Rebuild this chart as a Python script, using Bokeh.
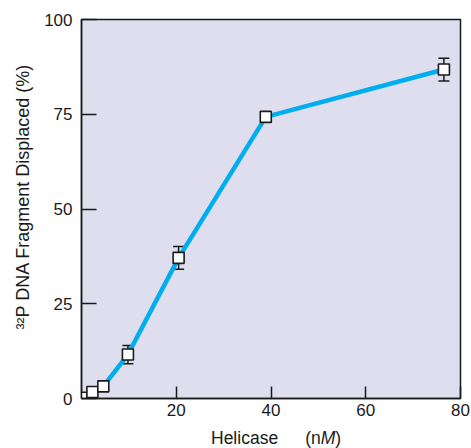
from bokeh.plotting import figure
from bokeh.models import (ColumnDataSource, Whisker, TeeHead, FixedTicker,
                          Range1d, Div)
from bokeh.layouts import column
from bokeh.embed import file_html
from bokeh.resources import INLINE

# ---- data ----
helicase_nM = [0.0, 2.3, 4.6, 9.8, 20.5, 38.9, 76.5]
displaced_pct = [0.2, 1.7, 3.2, 11.6, 37.1, 74.3, 86.8]
error_pct = [0.0, 0.0, 0.0, 2.4, 3.0, 0.0, 3.0]

x_ticks = [20, 40, 60, 80]
y_ticks = [0, 25, 50, 75, 100]

x_title_html = ("Helicase<span style=\"padding-left: 27px;\">(n<i>M</i>)</span>")
y_title = "\u00a0" * 5 + "\u00b3\u00b2P DNA Fragment Displaced (%)"

FONT = "Liberation Sans"
INK = "#1a1a1a"

p = figure(width=471, height=430, output_backend="svg", toolbar_location=None,
           x_range=Range1d(0, 80), y_range=Range1d(0, 100),
           min_border_left=81, min_border_right=11, min_border_top=19,
           min_border_bottom=32, margin=(0, 0, 0, 0))

p.background_fill_color = "#dfdeee"
p.border_fill_color = "white"
p.outline_line_color = INK
p.outline_line_width = 1.5
p.xgrid.visible = False
p.ygrid.visible = False

p.xaxis.ticker = FixedTicker(ticks=x_ticks)
p.yaxis.ticker = FixedTicker(ticks=y_ticks)
for ax, tin, stand in ((p.xaxis, 12, 5), (p.yaxis, 15, 9)):
    ax.axis_line_color = INK
    ax.axis_line_width = 1.5
    ax.major_tick_line_color = INK
    ax.major_tick_line_width = 1.5
    ax.major_tick_in = tin
    ax.major_tick_out = 0
    ax.minor_tick_line_color = None
    ax.major_label_text_font = FONT
    ax.major_label_text_font_size = "17px"
    ax.major_label_text_color = INK
    ax.major_label_standoff = stand

p.yaxis.axis_label = y_title
p.yaxis.axis_label_text_font = FONT
p.yaxis.axis_label_text_font_size = "18px"
p.yaxis.axis_label_text_font_style = "normal"
p.yaxis.axis_label_text_color = INK
p.yaxis.axis_label_standoff = 8

src = ColumnDataSource(dict(x=helicase_nM, y=displaced_pct))

ex = [x for x, e in zip(helicase_nM, error_pct) if e > 0]
ey = [y for y, e in zip(displaced_pct, error_pct) if e > 0]
ee = [e for e in error_pct if e > 0]
esrc = ColumnDataSource(dict(x=ex, lower=[y - e for y, e in zip(ey, ee)],
                             upper=[y + e for y, e in zip(ey, ee)]))
w = Whisker(base="x", lower="lower", upper="upper", source=esrc,
            dimension="height", line_color=INK, line_width=1.5,
            upper_head=TeeHead(size=11, line_color=INK, line_width=1.5),
            lower_head=TeeHead(size=11, line_color=INK, line_width=1.5))
p.add_layout(w)

p.line("x", "y", source=src, line_color="#00aeef", line_width=4.5)
p.scatter("x", "y", source=src, marker="square", size=11, fill_color="white",
          line_color=INK, line_width=1.6)

xdiv = Div(text=('<div style="font-family: \'Liberation Sans\'; font-size: 17.5px; '
                 'color: #1a1a1a; padding-left: 211px; white-space: nowrap; '
                 'line-height: 1; margin: 0;">' + x_title_html + '</div>'),
           width=471, height=18, margin=(0, 0, 0, 0))

layout = column(p, xdiv, spacing=0, margin=(0, 0, 0, 0))

open("out.html", "w").write(file_html(layout, INLINE))
